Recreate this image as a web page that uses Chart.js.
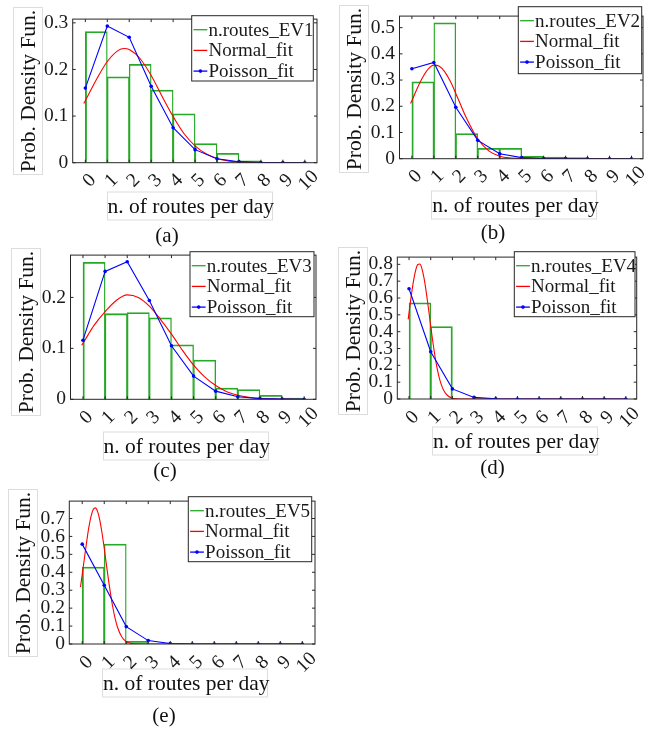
<!DOCTYPE html>
<html><head><meta charset="utf-8">
<script src="https://cdn.jsdelivr.net/npm/chart.js@4.4.1/dist/chart.umd.min.js"></script>
<style>
html,body{margin:0;padding:0;background:#fff;}
body{width:651px;height:729px;position:relative;overflow:hidden;font-family:"Liberation Serif","Times New Roman",serif;color:#111;}
canvas{position:absolute;z-index:1;}
.yt{position:absolute;z-index:4;box-sizing:border-box;border:1px solid #dddddd;font-size:21.5px;line-height:28px;text-align:center;white-space:nowrap;transform:translate(-50%,-50%) rotate(-90deg);}
.xt{position:absolute;z-index:4;box-sizing:border-box;border:1px solid #dddddd;font-size:21.5px;line-height:27px;text-align:center;white-space:nowrap;transform:translate(-50%,-50%);}
.cap{position:absolute;z-index:4;font-size:21px;line-height:22px;white-space:nowrap;transform:translate(-50%,-50%);}
.xl{position:absolute;z-index:5;font-size:19.5px;line-height:20px;white-space:nowrap;color:#1a1a1a;transform:translate(-50%,-50%) rotate(-45deg);}
</style>
</head><body>
<script>
// ---------- DATA ----------
const xTickValues = [0,1,2,3,4,5,6,7,8,9,10];
const binCenters  = [0.5,1.5,2.5,3.5,4.5,5.5,6.5,7.5,8.5,9.5];
const poissonX    = [0,1,2,3,4,5,6,7,8,9,10];

const histEV1    = [0.281,0.184,0.211,0.156,0.105,0.041,0.020,0.004,null,null];
const normalXEV1 = [-0.07,0,0.5,1,1.5,1.75,2,2.5,3,3.5,4,4.5,5,5.5,6,6.5,7,8,9,10];
const normalEV1  = [0.127,0.133,0.178,0.217,0.241,0.245,0.243,0.223,0.187,0.142,0.099,0.062,0.036,0.019,0.009,0.004,0.0015,0.0002,0,0];
const poissonEV1 = [0.160,0.293,0.269,0.164,0.075,0.028,0.0085,0.0022,0.0005,0.0001,0];

const histEV2    = [0.293,0.518,0.096,0.0395,0.0395,0.009,0.006,0.004,null,null];
const normalXEV2 = [-0.06,0,0.25,0.5,0.75,1,1.25,1.5,1.75,2,2.5,3,3.5,4,4.5,5,6,8,10];
const normalEV2  = [0.211,0.221,0.270,0.312,0.343,0.357,0.353,0.331,0.295,0.249,0.152,0.075,0.030,0.0097,0.0026,0.0005,0,0,0];
const poissonEV2 = [0.343,0.367,0.196,0.070,0.0187,0.004,0.0007,0.0001,0,0,0];

const histEV3    = [0.269,0.168,0.170,0.160,0.107,0.077,0.022,0.019,0.008,0.0025];
const normalXEV3 = [-0.06,0,0.5,1,1.5,2,2.5,3,3.5,4,4.5,5,5.5,6,6.5,7,7.5,8,9,10];
const normalEV3  = [0.106,0.110,0.145,0.172,0.194,0.205,0.200,0.183,0.157,0.128,0.096,0.067,0.044,0.027,0.015,0.008,0.004,0.0018,0.0003,0];
const poissonEV3 = [0.116,0.251,0.270,0.194,0.105,0.0455,0.016,0.005,0.0014,0.0003,0.0001];

const histEV4    = [0.571,0.430,null,null,null,null,null,null,null,null];
const normalXEV4 = [-0.04,0,0.1,0.2,0.3,0.4,0.5,0.6,0.7,0.8,0.9,1.0,1.1,1.2,1.3,1.4,1.5,1.6,1.8,2.0,2.2,2.5,3,10];
const normalEV4  = [0.473,0.513,0.611,0.697,0.762,0.799,0.802,0.772,0.712,0.629,0.533,0.433,0.337,0.251,0.179,0.123,0.081,0.051,0.018,0.005,0.0013,0.0001,0,0];
const poissonEV4 = [0.655,0.281,0.060,0.0095,0.0012,0.0001,0,0,0,0,0];

const histEV5    = [0.429,0.557,0.015,null,null,null,null,null,null,null];
const normalXEV5 = [-0.08,0,0.1,0.2,0.3,0.4,0.5,0.6,0.7,0.8,0.9,1.0,1.1,1.2,1.3,1.4,1.5,1.6,1.8,2.0,2.2,2.5,3,10];
const normalEV5  = [0.318,0.388,0.479,0.569,0.650,0.712,0.750,0.759,0.738,0.690,0.619,0.534,0.442,0.352,0.270,0.198,0.140,0.095,0.039,0.0135,0.004,0.0005,0,0];
const poissonEV5 = [0.557,0.328,0.097,0.019,0.0027,0.0003,0,0,0,0,0];

const seriesNames = ['n.routes_EV1','n.routes_EV2','n.routes_EV3','n.routes_EV4','n.routes_EV5'];
const normalName = 'Normal_fit';
const poissonName = 'Poisson_fit';
const yTitle = 'Prob. Density Fun.';
const xTitle = 'n. of routes per day';
const captions = ['(a)','(b)','(c)','(d)','(e)'];

// ---------- LAYOUT (positions only) ----------
const panels = [
  {hist:histEV1, nx:normalXEV1, ny:normalEV1, pois:poissonEV1, xmin:-0.07, xmax:10.05, ymax:0.308,
   L:72.7, R:317, T:11.7, B:162.7, leg:[191.7,15.7,121.6,65.3],
   yt:[28.3,90.8], xt:[189.5,206.2], cap:[167,235]},
  {hist:histEV2, nx:normalXEV2, ny:normalEV2, pois:poissonEV2, xmin:-0.06, xmax:10.02, ymax:0.544,
   L:399.5, R:643, T:6.7, B:158.7, leg:[518.3,6.7,123.4,67],
   yt:[354.3,89.2], xt:[514.2,205], cap:[493,232]},
  {hist:histEV3, nx:normalXEV3, ny:normalEV3, pois:poissonEV3, xmin:-0.06, xmax:10.03, ymax:0.283,
   L:70.5, R:316, T:247.8, B:399.3, leg:[190,251.7,124,65],
   yt:[26,331.7], xt:[185.5,445.5], cap:[165,470]},
  {hist:histEV4, nx:normalXEV4, ny:normalEV4, pois:poissonEV4, xmin:-0.04, xmax:10.0, ymax:0.843,
   L:397.3, R:636.7, T:249, B:399, leg:[514.3,251.7,120.7,65],
   yt:[352.5,330.8], xt:[515,440.8], cap:[492.5,467]},
  {hist:histEV5, nx:normalXEV5, ny:normalEV5, pois:poissonEV5, xmin:-0.08, xmax:10.07, ymax:0.797,
   L:69.3, R:315, T:493.3, B:644, leg:[188.3,496.7,123.4,65],
   yt:[23.3,572.5], xt:[185,682.5], cap:[164,715]}
];

const GREEN='#26a926', RED='#ff0000', BLUE='#0000ff', AXIS='#262626', TXT='#1a1a1a';
const FONT='"Liberation Serif","Times New Roman",serif';

function decoPlugin(p){
  return {id:'deco', afterDraw(chart){
    const ctx=chart.ctx, a=chart.chartArea, xs=chart.scales.x, ys=chart.scales.y;
    ctx.save();
    ctx.strokeStyle=AXIS; ctx.lineWidth=1;
    const tl=3;
    ctx.beginPath();
    xTickValues.forEach(v=>{const px=xs.getPixelForValue(v);
      ctx.moveTo(px,a.bottom); ctx.lineTo(px,a.bottom-tl);
      ctx.moveTo(px,a.top); ctx.lineTo(px,a.top+tl);});
    ys.ticks.forEach(t=>{const py=ys.getPixelForValue(t.value);
      ctx.moveTo(a.left,py); ctx.lineTo(a.left+tl,py);
      ctx.moveTo(a.right,py); ctx.lineTo(a.right-tl,py);});
    ctx.stroke();
    ctx.strokeRect(a.left, a.top, a.right-a.left, a.bottom-a.top);
    ctx.restore();
    ctx.save();
    const [lx,ly,lw,lh]=p.legAbs;
    ctx.fillStyle='#fff'; ctx.fillRect(lx,ly,lw,lh);
    ctx.strokeStyle=AXIS; ctx.lineWidth=1; ctx.strokeRect(lx,ly,lw,lh);
    const items=chart.data.datasets.map(d=>({label:d.label,color:d.borderColor,dot:d.pointRadius>0}));
    ctx.font='19px '+FONT; ctx.textAlign='left'; ctx.textBaseline='middle';
    items.forEach((it,i)=>{
      const yy=ly+14+i*20.7;
      ctx.strokeStyle=it.color; ctx.lineWidth=1.3;
      ctx.beginPath(); ctx.moveTo(lx+1.8,yy); ctx.lineTo(lx+15.6,yy); ctx.stroke();
      if(it.dot){ctx.fillStyle=it.color; ctx.beginPath(); ctx.arc(lx+8.7,yy,1.8,0,Math.PI*2); ctx.fill();}
      ctx.fillStyle=TXT; ctx.fillText(it.label, lx+16.8, yy+1);
    });
    ctx.restore();
  }};
}

const labelSpots = [];
panels.forEach((p,idx)=>{
  const left=Math.max(0,Math.floor(p.L)-45), top=Math.max(0,Math.floor(p.T)-8);
  const width=Math.min(651,Math.ceil(p.R)+8)-left, height=Math.ceil(p.B)+32-top;
  const cv=document.createElement('canvas');
  cv.width=width; cv.height=height;
  cv.style.left=left+'px'; cv.style.top=top+'px';
  cv.style.width=width+'px'; cv.style.height=height+'px';
  document.body.appendChild(cv);
  p.legAbs=[p.leg[0]-left, p.leg[1]-top, p.leg[2], p.leg[3]];
  const yAxisW=p.L-left, padTop=p.T-top, padRight=left+width-p.R, xAxisH=top+height-p.B;
  let lastBar=0; p.hist.forEach((v,i)=>{if(v!==null) lastBar=i;});

  const chart = new Chart(cv.getContext('2d'),{
    type:'scatter',
    data:{datasets:[
      {type:'bar', label:seriesNames[idx], order:3,
       data:binCenters.map((c,i)=>({x:c,y:p.hist[i]})),
       backgroundColor:'rgba(0,0,0,0)', borderColor:GREEN, borderSkipped:false,
       borderWidth:(ctx)=>({top:1.1, bottom:0,
          left: ctx.dataIndex===0 ? 1.2 : 0.7,
          right: ctx.dataIndex===lastBar ? 1.2 : 0.7}),
       barPercentage:1, categoryPercentage:1, pointRadius:0},
      {type:'line', label:normalName, order:2,
       data:p.nx.map((x,i)=>({x:x,y:p.ny[i]})),
       borderColor:RED, borderWidth:1.1, pointRadius:0, fill:false, cubicInterpolationMode:'monotone'},
      {type:'line', label:poissonName, order:1,
       data:poissonX.map((x,i)=>({x:x,y:p.pois[i]})),
       borderColor:BLUE, backgroundColor:BLUE, borderWidth:1.1, pointRadius:1.8, pointBorderWidth:0,
       pointBackgroundColor:BLUE, fill:false, tension:0}
    ]},
    options:{
      responsive:false, animation:false, devicePixelRatio:1,
      layout:{autoPadding:false, padding:{top:padTop,right:padRight,left:0,bottom:0}},
      plugins:{legend:{display:false}, tooltip:{enabled:false}},
      events:[],
      scales:{
        x:{type:'linear', min:p.xmin, max:p.xmax,
           grid:{display:false, drawTicks:false}, border:{display:false},
           ticks:{display:false, color:'rgba(0,0,0,0)', stepSize:1, includeBounds:false, autoSkip:false,
                  font:{family:FONT,size:10}},
           afterFit:(s)=>{s.height=xAxisH;}},
        y:{type:'linear', min:0, max:p.ymax,
           grid:{display:false, drawTicks:false}, border:{display:false},
           ticks:{stepSize:0.1, includeBounds:false, autoSkip:false, padding:4.4, color:TXT,
                  font:{family:FONT,size:19.5},
                  callback:(v)=>String(Math.round(v*10)/10)},
           afterFit:(s)=>{s.width=yAxisW;}}
      }
    },
    plugins:[decoPlugin(p)]
  });

  const xs=chart.scales.x, area=chart.chartArea;
  xTickValues.forEach(v=>{
    labelSpots.push({text:String(v), x:left+xs.getPixelForValue(v)+3.3, y:top+area.bottom+17.5});
  });
});

// titles, captions and rotated x tick labels (real text), added after all charts
panels.forEach((p,idx)=>{
  const yt=document.createElement('div'); yt.className='yt'; yt.textContent=yTitle;
  yt.style.width='168px'; yt.style.height='30px'; yt.style.left=p.yt[0]+'px'; yt.style.top=p.yt[1]+'px';
  document.body.appendChild(yt);
  const xt=document.createElement('div'); xt.className='xt'; xt.textContent=xTitle;
  xt.style.width='166px'; xt.style.height='29px'; xt.style.left=p.xt[0]+'px'; xt.style.top=p.xt[1]+'px';
  document.body.appendChild(xt);
  const cp=document.createElement('div'); cp.className='cap'; cp.textContent=captions[idx];
  cp.style.left=p.cap[0]+'px'; cp.style.top=p.cap[1]+'px';
  document.body.appendChild(cp);
});
labelSpots.forEach(s=>{
  const d=document.createElement('div'); d.className='xl'; d.textContent=s.text;
  d.style.left=s.x.toFixed(1)+'px'; d.style.top=s.y.toFixed(1)+'px';
  document.body.appendChild(d);
});
</script>
</body></html>
